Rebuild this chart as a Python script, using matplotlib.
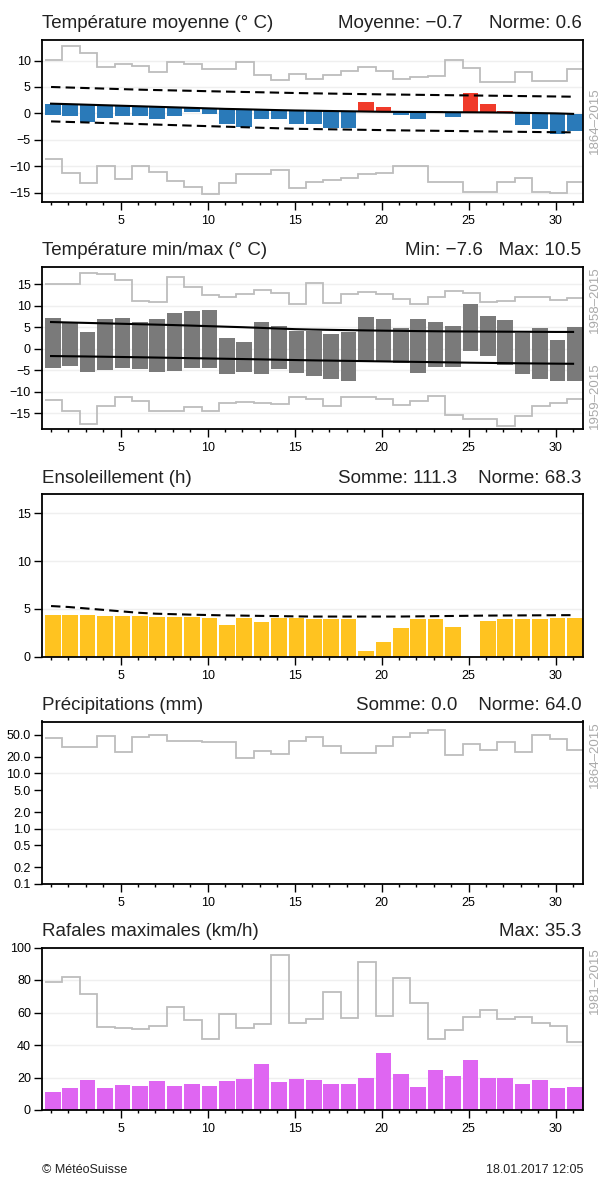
import matplotlib.pyplot as plt
import numpy as np
from matplotlib.ticker import FixedLocator, FuncFormatter

plt.rcParams['font.family'] = ['Liberation Sans', 'DejaVu Sans']
plt.rcParams['text.color'] = '#222222'

# Climatogramme journalier - MétéoSuisse
days = np.arange(1, 32)
jours_ticks = [5, 10, 15, 20, 25, 30]

# Température moyenne (°C)
tmoy = [-0.25, -0.57, -1.6, -0.8, -0.45, -0.5, -1.1, -0.57, 0.25, -0.06, -2.0, -2.5, -1.1, -1.1, -2.0, -1.96,
        -2.8, -2.8, 2.15, 1.2, -0.25, -1.0, 0.5, -0.7, 3.86, 1.77, 0.4, -2.15, -3.0, -4.0, -3.4]
tmoy_norme = [1.84, 1.75, 1.65, 1.55, 1.45, 1.35, 1.25, 1.15, 1.05, 0.95, 0.85, 0.78, 0.70, 0.62, 0.55, 0.50,
              0.45, 0.40, 0.35, 0.30, 0.28, 0.26, 0.25, 0.22, 0.20, 0.18, 0.15, 0.10, 0.05, 0.0, -0.1]
tmoy_haut = [5.0, 4.9, 4.8, 4.7, 4.6, 4.5, 4.42, 4.35, 4.28, 4.2, 4.13, 4.06, 4.0, 3.93, 3.86, 3.8,
             3.75, 3.7, 3.65, 3.6, 3.56, 3.52, 3.48, 3.44, 3.4, 3.36, 3.32, 3.28, 3.24, 3.2, 3.16]
tmoy_bas = [-1.52, -1.62, -1.72, -1.82, -1.92, -2.02, -2.12, -2.22, -2.32, -2.42, -2.52, -2.62, -2.72, -2.82,
            -2.92, -2.97, -3.02, -3.07, -3.12, -3.17, -3.22, -3.26, -3.3, -3.34, -3.38, -3.42, -3.46, -3.5,
            -3.54, -3.57, -3.6]
tmoy_rec_max = [10.2, 12.7, 11.5, 8.7, 9.4, 9.05, 7.8, 9.8, 9.4, 8.5, 8.5, 9.7, 7.2, 6.3, 7.4, 6.5,
                7.3, 8.0, 8.7, 8.0, 6.6, 6.9, 7.0, 10.2, 8.6, 5.9, 5.9, 7.8, 6.2, 6.1, 8.5]
tmoy_rec_min = [-8.6, -11.3, -13.2, -9.9, -12.4, -9.9, -11.1, -12.8, -13.9, -15.3, -13.2, -11.5, -11.5, -10.8,
                -14.2, -13.1, -12.6, -12.2, -11.5, -11.3, -9.9, -9.9, -13.1, -13.1, -14.9, -14.9, -13.1,
                -12.3, -14.9, -15.1, -13.1]

# Température min/max (°C)
tmax = [7.2, 6.1, 3.9, 7.0, 7.2, 6.25, 6.9, 8.3, 8.7, 9.1, 2.6, 1.6, 6.25, 5.2, 4.2, 4.1,
        3.5, 3.9, 7.3, 7.0, 4.9, 7.0, 6.25, 5.3, 10.5, 7.65, 6.6, 3.75, 4.7, 1.95, 5.1]
tmin = [-4.45, -3.9, -5.3, -4.9, -4.5, -4.7, -5.5, -5.1, -4.5, -4.5, -5.9, -5.3, -5.9, -4.8, -5.7, -6.25,
        -7.0, -7.6, -3.1, -3.1, -3.4, -5.7, -4.3, -4.3, -0.5, -1.8, -3.75, -5.9, -7.0, -7.5, -7.4]
tmax_norme = [6.2, 6.1, 6.0, 5.9, 5.8, 5.7, 5.6, 5.5, 5.38, 5.25, 5.12, 5.0, 4.85, 4.7, 4.55, 4.45,
              4.38, 4.32, 4.26, 4.2, 4.15, 4.1, 4.06, 4.02, 4.0, 3.98, 3.96, 3.94, 3.92, 3.9, 3.9]
tmin_norme = [-1.7, -1.75, -1.8, -1.86, -1.92, -1.98, -2.05, -2.12, -2.19, -2.26, -2.33, -2.4, -2.47, -2.55,
              -2.63, -2.7, -2.76, -2.82, -2.88, -2.94, -3.0, -3.06, -3.12, -3.18, -3.24, -3.29, -3.34,
              -3.39, -3.43, -3.47, -3.5]
tmax_rec = [15.1, 15.1, 17.5, 17.3, 16.0, 11.2, 10.8, 16.6, 14.3, 12.5, 11.9, 12.7, 13.7, 12.9, 10.4, 15.2,
            10.7, 12.7, 13.1, 12.7, 11.6, 10.4, 12.1, 13.3, 12.9, 10.8, 11.1, 12.1, 11.9, 11.3, 11.7]
tmin_rec = [-11.9, -14.5, -17.6, -13.3, -11.3, -12.1, -14.5, -14.5, -13.5, -14.5, -12.7, -12.3, -12.5, -12.9,
            -11.3, -11.7, -13.3, -11.3, -11.3, -11.7, -13.0, -12.1, -10.9, -15.4, -16.25, -16.25, -18.0,
            -15.6, -13.3, -12.5, -11.7]

# Ensoleillement (h)
soleil = [4.4, 4.37, 4.34, 4.3, 4.3, 4.23, 4.18, 4.16, 4.13, 4.08, 3.36, 4.06, 3.64, 4.06, 4.02, 3.98,
          3.98, 3.95, 0.6, 1.5, 3.05, 3.95, 3.95, 3.15, 0.0, 3.74, 3.98, 3.98, 3.98, 4.02, 4.08]
soleil_norme = [5.3, 5.2, 5.05, 4.9, 4.75, 4.6, 4.5, 4.45, 4.4, 4.36, 4.32, 4.3, 4.27, 4.25, 4.22, 4.2,
                4.2, 4.2, 4.2, 4.2, 4.2, 4.22, 4.24, 4.26, 4.28, 4.3, 4.31, 4.32, 4.33, 4.34, 4.35]

# Précipitations (mm)
precip = [0.0] * 31
precip_rec = [43.3, 29.9, 29.9, 47.7, 24.0, 46.4, 49.7, 38.8, 38.8, 36.3, 37.7, 19.1, 25.0, 22.8, 39.3, 46.4,
              31.5, 23.3, 23.3, 31.5, 46.4, 53.0, 61.0, 21.2, 34.2, 26.8, 36.3, 24.0, 49.7, 41.5, 26.8]
precip_ticks = [0.1, 0.2, 0.5, 1, 2, 5, 10, 20, 50]
precip_grille = [0.1, 1, 10]

# Rafales maximales (km/h)
rafales = [11.3, 13.3, 18.7, 13.8, 15.4, 15.0, 18.1, 14.6, 16.0, 14.6, 18.1, 19.1, 28.3, 17.0, 19.1, 18.5,
           15.8, 15.8, 19.9, 35.3, 22.2, 14.2, 24.6, 21.1, 31.0, 19.5, 19.9, 16.0, 18.7, 13.8, 14.2]
rafales_rec = [79, 81.7, 71.5, 51.3, 50.7, 50.1, 51.7, 63.2, 55.4, 43.5, 59.1, 50.5, 53.2, 95.5, 53.4, 55.9,
               72.9, 56.5, 91, 57.9, 81.5, 65.7, 43.5, 49.3, 57.5, 61.6, 56.1, 57.5, 53.4, 52, 41.7]

GRIS_REC = '#bdbdbd'
xb = days + 0.1          # position des barres
bords = np.append(xb - 0.45, xb[-1] + 0.55)


def cadre(ax, titre, droite, ylim, yticks):
    ax.set_xlim(0.48, 31.57)
    ax.set_ylim(*ylim)
    ax.set_yticks(yticks)
    ax.xaxis.set_major_locator(FixedLocator(jours_ticks))
    ax.xaxis.set_minor_locator(FixedLocator(days))
    ax.tick_params(axis='y', direction='out', length=6, width=1, pad=2, labelsize=9)
    ax.tick_params(axis='x', which='major', direction='out', length=5.5, width=1, pad=4, labelsize=9)
    ax.tick_params(axis='x', which='minor', direction='out', length=2, width=1)
    for s in ax.spines.values():
        s.set_linewidth(1.3)
    ax.set_axisbelow(True)
    ax.annotate(titre, xy=(0, 1), xycoords='axes fraction', xytext=(0, 8), textcoords='offset points',
                ha='left', va='baseline', fontsize=13.5)
    ax.annotate(droite, xy=(1, 1), xycoords='axes fraction', xytext=(-1, 8), textcoords='offset points',
                ha='right', va='baseline', fontsize=13.5)


def periode(ax, texte, y, va):
    ax.annotate(texte, xy=(1, y), xycoords='axes fraction', xytext=(4, 0), textcoords='offset points',
                ha='left', va=va, rotation=90, fontsize=9.5, color='#aaaaaa')


def record(ax, valeurs):
    ax.stairs(valeurs, bords, color=GRIS_REC, lw=1.3, baseline=None)


fig = plt.figure(figsize=(5.99, 11.77), dpi=100)
L, W, H = 42 / 599, 541 / 599, 162.5 / 1177

# 1) Température moyenne
ax1 = fig.add_axes([L, 1 - 202 / 1177, W, H])
cadre(ax1, "Température moyenne (° C)", "Moyenne: \u22120.7     Norme: 0.6", (-16.8, 14), [-15, -10, -5, 0, 5, 10])
ax1.yaxis.grid(True, color='#efefef', lw=1)
ecart = np.array(tmoy) - np.array(tmoy_norme)
couleurs = ['#2a7ab9' if e < 0 else '#f03b2a' for e in ecart]
ax1.bar(xb, ecart, bottom=tmoy_norme, width=0.9, color=couleurs)
record(ax1, tmoy_rec_max)
record(ax1, tmoy_rec_min)
ax1.plot(days, tmoy_norme, color='black', lw=1.5)
ax1.plot(days, tmoy_haut, color='black', lw=1.5, dashes=(4.5, 2.5))
ax1.plot(days, tmoy_bas, color='black', lw=1.5, dashes=(4.5, 2.5))
periode(ax1, "1864\u20132015", 0.5, 'center')

# 2) Température min/max
ax2 = fig.add_axes([L, 1 - 429 / 1177, W, H])
cadre(ax2, "Température min/max (° C)", "Min: \u22127.6   Max: 10.5", (-18.65, 19.1), [-15, -10, -5, 0, 5, 10, 15])
ax2.yaxis.grid(True, color='#efefef', lw=1)
ax2.bar(xb, np.array(tmax) - np.array(tmin), bottom=tmin, width=0.9, color='#7a7a7a')
record(ax2, tmax_rec)
record(ax2, tmin_rec)
ax2.plot(days, tmax_norme, color='black', lw=1.5)
ax2.plot(days, tmin_norme, color='black', lw=1.5)
periode(ax2, "1958\u20132015", 1.0, 'top')
periode(ax2, "1959\u20132015", 0.0, 'bottom')

# 3) Ensoleillement
ax3 = fig.add_axes([L, 1 - 656.7 / 1177, W, H])
cadre(ax3, "Ensoleillement (h)", "Somme: 111.3    Norme: 68.3", (0, 17), [0, 5, 10, 15])
ax3.yaxis.grid(True, color='#efefef', lw=1)
ax3.bar(xb, soleil, width=0.9, color='#ffc320')
ax3.plot(days, soleil_norme, color='black', lw=1.5, dashes=(4.5, 2.5))

# 4) Précipitations
ax4 = fig.add_axes([L, 1 - 884 / 1177, W, H])
ax4.set_yscale('log')
cadre(ax4, "Précipitations (mm)", "Somme: 0.0    Norme: 64.0", (0.1, 87), precip_ticks)
ax4.yaxis.set_major_formatter(FuncFormatter(lambda v, p: "%.1f" % v))
ax4.yaxis.set_minor_locator(FixedLocator([]))
for g in precip_grille:
    ax4.axhline(g, color='#efefef', lw=1, zorder=0)
p = np.array(precip)
ax4.bar(xb[p > 0], p[p > 0], width=0.9, color='#2a7ab9')
record(ax4, precip_rec)
periode(ax4, "1864\u20132015", 1.0, 'top')

# 5) Rafales maximales
ax5 = fig.add_axes([L, 1 - 1110 / 1177, W, H])
cadre(ax5, "Rafales maximales (km/h)", "Max: 35.3", (0, 100), [0, 20, 40, 60, 80, 100])
ax5.yaxis.grid(True, color='#efefef', lw=1)
ax5.bar(xb, rafales, width=0.9, color='#df66f2')
record(ax5, rafales_rec)
periode(ax5, "1981\u20132015", 1.0, 'top')

fig.text(42 / 599, 1 - 1173 / 1177, "© MétéoSuisse", ha='left', va='baseline', fontsize=9)
fig.text(583 / 599, 1 - 1173 / 1177, "18.01.2017 12:05", ha='right', va='baseline', fontsize=9)

plt.savefig("out.png", dpi=100)
